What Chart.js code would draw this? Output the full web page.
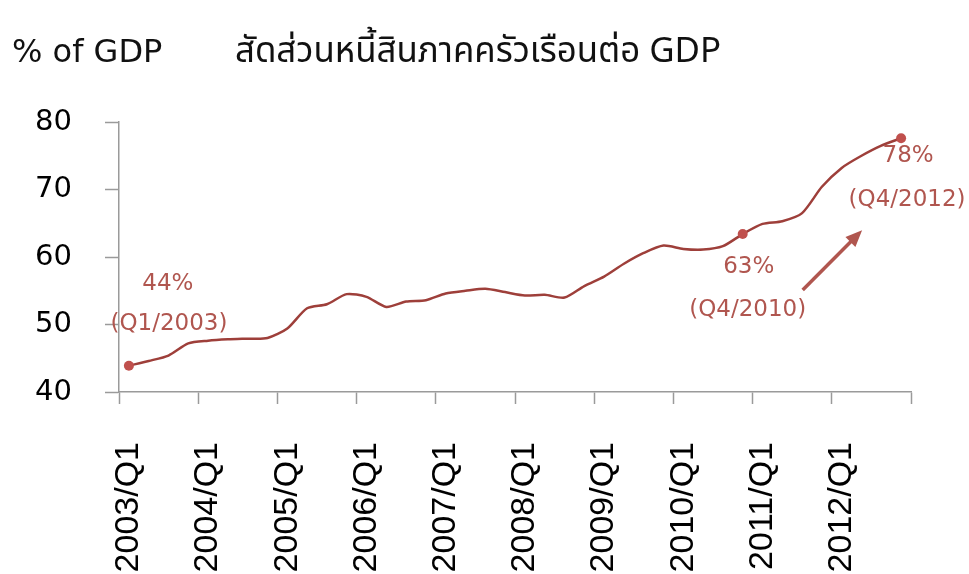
<!DOCTYPE html>
<html>
<head>
<meta charset="utf-8">
<script src="https://cdn.jsdelivr.net/npm/chart.js@4.4.1/dist/chart.umd.min.js"></script>
<style>
    html, body { margin: 0; padding: 0; background: #fff; }
    #wrap { width: 969px; height: 574px; }
</style>
</head>
<body>
<div id="wrap"><canvas id="debt"></canvas></div>
<script>
// household debt to GDP, quarterly
const years = [2003, 2004, 2005, 2006, 2007, 2008, 2009, 2010, 2011, 2012];
const quarters = ['Q1', 'Q2', 'Q3', 'Q4'];
const debtRatio = [
    43.9, 44.6, 45.4, 47.2,
    47.6, 47.8, 47.9, 48.0,
    49.4, 52.4, 53.0, 54.5,
    54.1, 52.6, 53.4, 53.6,
    54.6, 55.0, 55.3, 54.8,
    54.3, 54.4, 54.0, 55.7,
    57.1, 59.0, 60.6, 61.7,
    61.2, 61.1, 61.6, 63.4,
    64.9, 65.3, 66.5, 70.4,
    73.2, 75.0, 76.5, 77.6
];
const yTicks = [40, 50, 60, 70, 80];
const unitLabel = '% of GDP';
const chartTitle = 'สัดส่วนหนี้สินภาคครัวเรือนต่อ GDP';
const markedIndex = [0, 31, 39];
const markedValue = ['44%', '63%', '78%'];
const markedPeriod = ['(Q1/2003)', '(Q4/2010)', '(Q4/2012)'];

const labels = years.flatMap(y => quarters.map(q => y + '/' + q));

const lineColor = '#9e3f3a';
const noteColor = '#b0564f';
const axisColor = '#9a9a9a';

//! text and arrow on top of the chart
const notes = {
    id: 'notes',
    afterDatasetsDraw(chart) {
        const ctx = chart.ctx;
        const x = chart.scales.x;
        const y = chart.scales.y;
        // offsets of value / period text from each marked point
        const offs = [[39, -82, 40, -42], [6, 33, 5, 76], [7, 18, 6, 62]];

        ctx.save();
        ctx.fillStyle = noteColor;
        ctx.textAlign = 'center';
        ctx.textBaseline = 'middle';
        ctx.font = '23px "DejaVu Sans", sans-serif';
        markedIndex.forEach((idx, i) => {
            const px = x.getPixelForValue(idx);
            const py = y.getPixelForValue(debtRatio[idx]);
            const o = offs[i];
            ctx.fillText(markedValue[i], px + o[0], py + o[1]);
            ctx.fillText(markedPeriod[i], px + o[2], py + o[3]);
        });

        // arrow from Q4/2010 towards Q4/2012
        const ax = x.getPixelForValue(markedIndex[1]) + 60;
        const ay = y.getPixelForValue(debtRatio[markedIndex[1]]) + 56;
        const bx = x.getPixelForValue(markedIndex[2]) - 39;
        const by = y.getPixelForValue(debtRatio[markedIndex[2]]) + 92;
        const ang = Math.atan2(by - ay, bx - ax);
        const head = 18;
        ctx.strokeStyle = noteColor;
        ctx.lineWidth = 3.5;
        ctx.beginPath();
        ctx.moveTo(ax, ay);
        ctx.lineTo(bx - Math.cos(ang) * head * 0.7, by - Math.sin(ang) * head * 0.7);
        ctx.stroke();
        ctx.beginPath();
        ctx.moveTo(bx, by);
        ctx.lineTo(bx - head * Math.cos(ang - 0.4), by - head * Math.sin(ang - 0.4));
        ctx.lineTo(bx - head * Math.cos(ang + 0.4), by - head * Math.sin(ang + 0.4));
        ctx.closePath();
        ctx.fill();

        // headings
        ctx.fillStyle = '#111';
        ctx.textAlign = 'left';
        ctx.textBaseline = 'alphabetic';
        ctx.font = '32px "DejaVu Sans", sans-serif';
        ctx.fillText(unitLabel, 12, 62);
        ctx.font = '35px "Noto Sans Thai", "Noto Sans", "DejaVu Sans", sans-serif';
        ctx.fillText(chartTitle, 235, 62, 486);
        ctx.restore();
    }
};

const debt = document.getElementById('debt').getContext('2d');

new Chart(debt, {
    type: 'line',
    data: {
        labels: labels,
        datasets: [{
            data: debtRatio,
            borderColor: lineColor,
            borderWidth: 2.5,
            tension: 0.25,
            pointRadius: (c) => markedIndex.includes(c.dataIndex) ? 5 : 0,
            pointBackgroundColor: '#c0504d',
            pointBorderWidth: 0,
        }]
    },
    options: {
        responsive: true,
        maintainAspectRatio: false,
        animation: false,
        layout: {
            padding: { top: 122, right: 58, bottom: 0, left: 0 }
        },
        scales: {
            x: {
                offset: true,
                afterFit: (s) => {
                    s.height = 182;
                    s.paddingLeft = 0;
                    s.paddingRight = 0;
                },
                grid: {
                    offset: true,
                    drawOnChartArea: false,
                    tickLength: 12,
                    tickWidth: 1.5,
                    color: (c) => (c.index === undefined || c.index % 4 === 0) ? axisColor : 'rgba(0,0,0,0)',
                },
                border: { color: axisColor, width: 1.5 },
                ticks: {
                    autoSkip: false,
                    minRotation: 90,
                    maxRotation: 90,
                    padding: 38,
                    color: '#000',
                    font: { family: '"Liberation Sans", Arial, sans-serif', size: 34 },
                    callback: (v, i) => i % 4 === 0 ? labels[i] : '',
                }
            },
            y: {
                min: yTicks[0],
                max: yTicks[yTicks.length - 1],
                afterFit: (s) => { s.width = 119; },
                afterBuildTicks: (s) => { s.ticks = yTicks.map(v => ({ value: v })); },
                grid: {
                    drawOnChartArea: false,
                    tickLength: 14,
                    tickWidth: 1.5,
                    color: axisColor,
                },
                border: { color: axisColor, width: 1.5 },
                ticks: {
                    padding: 33,
                    color: '#000',
                    font: { family: '"DejaVu Sans", sans-serif', size: 29 },
                }
            }
        },
        plugins: {
            legend: { display: false },
            tooltip: { enabled: false },
        }
    },
    plugins: [notes]
});
</script>
</body>
</html>
